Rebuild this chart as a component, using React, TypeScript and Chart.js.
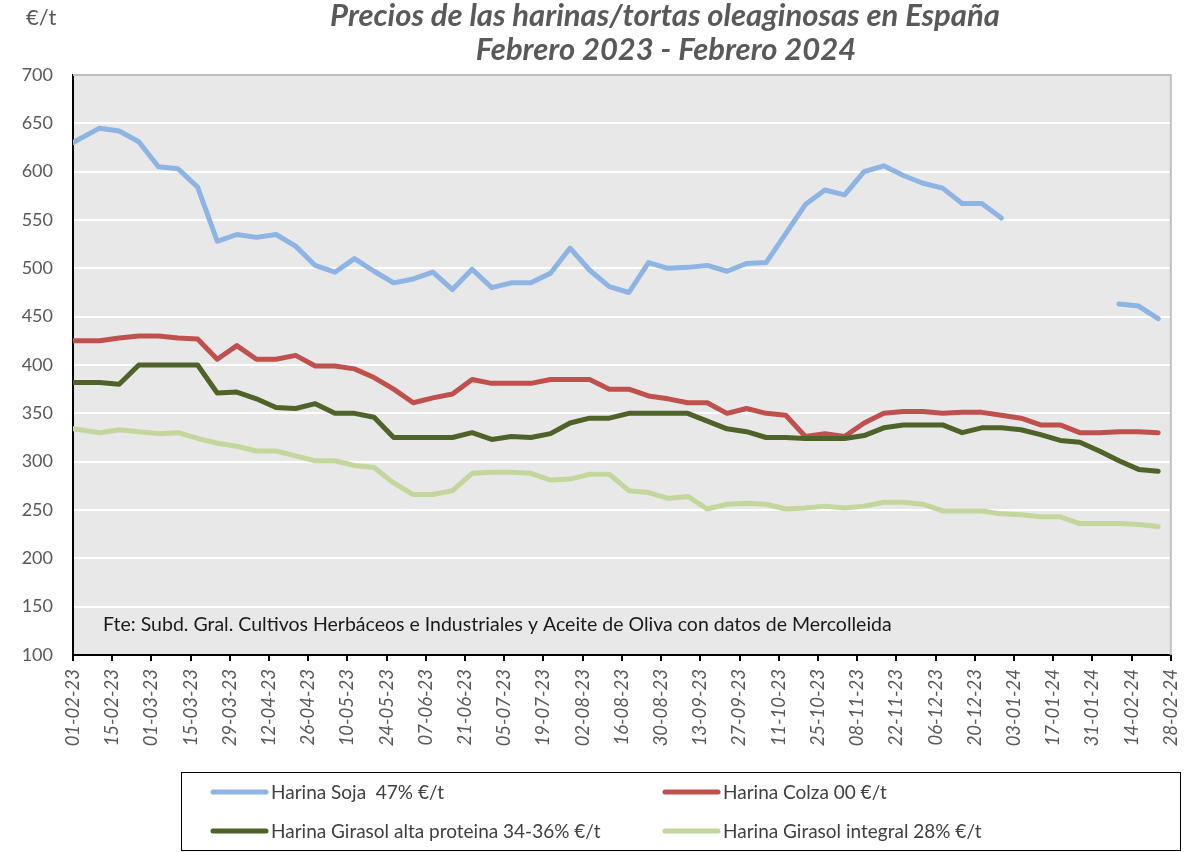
import React, { useEffect, useRef } from 'react';
import { Chart, registerables } from 'chart.js';

Chart.register(...registerables);

// ---- data ----
const axisStartUTC = Date.UTC(2023, 1, 1); // 01-02-23
const axisEndDay = 392; // 28-02-24
const tickStepDays = 14;
const firstWeeklyDay = 9.5;

const titleLines = ['Precios de las harinas/tortas oleaginosas en España', 'Febrero 2023 - Febrero 2024'];
const unitLabel = '€/t';
const sourceNote = 'Fte: Subd. Gral. Cultivos Herbáceos e Industriales y Aceite de Oliva con datos de Mercolleida';

const seriesLabels = [
  'Harina Soja  47% €/t',
  'Harina Colza 00 €/t',
  'Harina Girasol alta proteina 34-36% €/t',
  'Harina Girasol integral 28% €/t',
];
const seriesColors = ['#8EB4E3', '#C0504D', '#4F6228', '#C3D69B'];

const sojaValues = [
  630, 645, 642, 631, 605, 603, 584, 528, 535, 532, 535, 523, 503, 496, 510, 497,
  485, 489, 496, 478, 499, 480, 485, 485, 495, 521, 498, 481, 475, 506, 500, 501,
  503, 497, 505, 506, 536, 566, 581, 576, 600, 606, 596, 588, 583, 567, 567, 552,
  null, null, null, null, null, 463, 461, 448,
];
const colzaValues = [
  425, 425, 428, 430, 430, 428, 427, 406, 420, 406, 406, 410, 399, 399, 396, 387,
  375, 361, 366, 370, 385, 381, 381, 381, 385, 385, 385, 375, 375, 368, 365, 361,
  361, 350, 355, 350, 348, 326, 329, 326, 340, 350, 352, 352, 350, 351, 351, 348,
  345, 338, 338, 330, 330, 331, 331, 330,
];
const girasolAltaValues = [
  382, 382, 380, 400, 400, 400, 400, 371, 372, 365, 356, 355, 360, 350, 350, 346,
  325, 325, 325, 325, 330, 323, 326, 325, 329, 340, 345, 345, 350, 350, 350, 350,
  342, 334, 331, 325, 325, 324, 324, 324, 327, 335, 338, 338, 338, 330, 335, 335,
  333, 328, 322, 320, 311, 301, 292, 290,
];
const girasolIntegralValues = [
  334, 330, 333, 331, 329, 330, 324, 319, 316, 311, 311, 306, 301, 301, 296, 294,
  278, 266, 266, 270, 288, 289, 289, 288, 281, 282, 287, 287, 270, 268, 262, 264,
  251, 256, 257, 256, 251, 252, 254, 252, 254, 258, 258, 256, 249, 249, 249, 246,
  245, 243, 243, 236, 236, 236, 235, 233,
];
const seriesValues = [sojaValues, colzaValues, girasolAltaValues, girasolIntegralValues];

const yMin = 100;
const yMax = 700;
const yStep = 50;

// day offsets of each observation from 01-02-23
const pointDays = [0, ...sojaValues.slice(1).map((_, k) => firstWeeklyDay + 7 * k)];

const formatDay = (d: number) => {
  const dt = new Date(axisStartUTC + Math.round(d) * 86400000);
  const dd = String(dt.getUTCDate()).padStart(2, '0');
  const mm = String(dt.getUTCMonth() + 1).padStart(2, '0');
  const yy = String(dt.getUTCFullYear() % 100).padStart(2, '0');
  return `${dd}-${mm}-${yy}`;
};

const FONT = 'Lato, "Open Sans", sans-serif';

const decorPlugin = {
  id: 'decor',
  beforeDraw(chart: any) {
    const { ctx, chartArea: a } = chart;
    ctx.save();
    ctx.fillStyle = '#ffffff';
    ctx.fillRect(0, 0, chart.width, chart.height);
    ctx.fillStyle = '#e8e8e8';
    ctx.fillRect(a.left, a.top, a.right - a.left, a.bottom - a.top);
    ctx.restore();
  },
  afterDraw(chart: any) {
    const { ctx, chartArea: a } = chart;
    ctx.save();
    // plot border top/right
    ctx.strokeStyle = '#bfbfbf';
    ctx.lineWidth = 2;
    ctx.beginPath();
    ctx.moveTo(a.left, a.top);
    ctx.lineTo(a.right, a.top);
    ctx.lineTo(a.right, a.bottom);
    ctx.stroke();

    // title
    ctx.fillStyle = '#595959';
    ctx.textBaseline = 'middle';
    ctx.textAlign = 'center';
    ctx.font = `italic bold 31px ${FONT}`;
    ctx.fillText(titleLines[0], 665, 16);
    ctx.fillText(titleLines[1], 666, 50);

    // unit
    ctx.textAlign = 'left';
    ctx.font = `22px ${FONT}`;
    ctx.fillText(unitLabel, 26, 18);

    // source note
    ctx.fillStyle = '#1a1a1a';
    ctx.font = `19.5px ${FONT}`;
    ctx.fillText(sourceNote, 103, 625);

    // legend
    const box = { l: 181.5, t: 772.5, r: 1180.5, b: 850.5 };
    ctx.strokeStyle = '#000000';
    ctx.lineWidth = 1;
    ctx.strokeRect(box.l, box.t, box.r - box.l, box.b - box.t);
    const cols = [213, 665];
    const rows = [792, 831];
    chart.data.datasets.forEach((ds: any, i: number) => {
      const x = cols[i % 2];
      const y = rows[Math.floor(i / 2)];
      ctx.strokeStyle = ds.borderColor;
      ctx.lineWidth = 5;
      ctx.lineCap = 'round';
      ctx.beginPath();
      ctx.moveTo(x, y);
      ctx.lineTo(x + 53, y);
      ctx.stroke();
      ctx.fillStyle = '#404040';
      ctx.font = `19px ${FONT}`;
      ctx.textAlign = 'left';
      ctx.fillText(ds.label, x + 58, y + 1);
    });
    ctx.restore();
  },
};

export default function App() {
  const canvasRef = useRef<HTMLCanvasElement | null>(null);

  useEffect(() => {
    if (!canvasRef.current) return;
    const datasets = seriesValues.map((vals, i) => ({
      label: seriesLabels[i],
      data: vals.map((v, j) => ({ x: pointDays[j], y: v })),
      borderColor: seriesColors[i],
      backgroundColor: seriesColors[i],
      borderWidth: 5,
      pointRadius: 0,
      pointHoverRadius: 0,
      tension: 0,
      spanGaps: false,
      borderJoinStyle: 'round' as const,
      borderCapStyle: 'round' as const,
      order: seriesValues.length - i,
    }));

    const chart = new Chart(canvasRef.current, {
      type: 'line',
      data: { datasets },
      plugins: [decorPlugin],
      options: {
        responsive: false,
        animation: false,
        layout: { padding: { top: 75, right: 20, bottom: 97, left: 0 } },
        plugins: {
          legend: { display: false },
          tooltip: { enabled: false },
          title: { display: false },
        },
        scales: {
          x: {
            type: 'linear',
            min: 0,
            max: axisEndDay,
            afterFit: (scale: any) => {
              scale.height = 100;
            },
            ticks: {
              stepSize: tickStepDays,
              autoSkip: false,
              maxRotation: 90,
              minRotation: 90,
              padding: 8,
              color: '#595959',
              font: { family: FONT, size: 18.5, style: 'italic' },
              callback: (v: any) => formatDay(Number(v)),
            },
            grid: {
              drawOnChartArea: false,
              drawTicks: true,
              tickLength: 6,
              color: '#000000',
              lineWidth: 2,
            },
            border: { display: true, color: '#000000', width: 2 },
          },
          y: {
            type: 'linear',
            min: yMin,
            max: yMax,
            afterFit: (scale: any) => {
              scale.width = 73;
            },
            ticks: {
              stepSize: yStep,
              padding: 20,
              color: '#595959',
              font: { family: FONT, size: 18 },
            },
            grid: {
              drawTicks: false,
              lineWidth: 2,
              color: (c: any) =>
                c.tick && (c.tick.value === yMin || c.tick.value === yMax) ? 'rgba(0,0,0,0)' : '#ffffff',
            },
            border: { display: true, color: '#000000', width: 2 },
          },
        },
      },
    });
    return () => chart.destroy();
  }, []);

  return (
    <div style={{ position: 'fixed', left: 0, top: 0, width: 1201, height: 852, background: '#fff' }}>
      <canvas ref={canvasRef} width={1201} height={852} style={{ width: 1201, height: 852, display: 'block' }} />
    </div>
  );
}
